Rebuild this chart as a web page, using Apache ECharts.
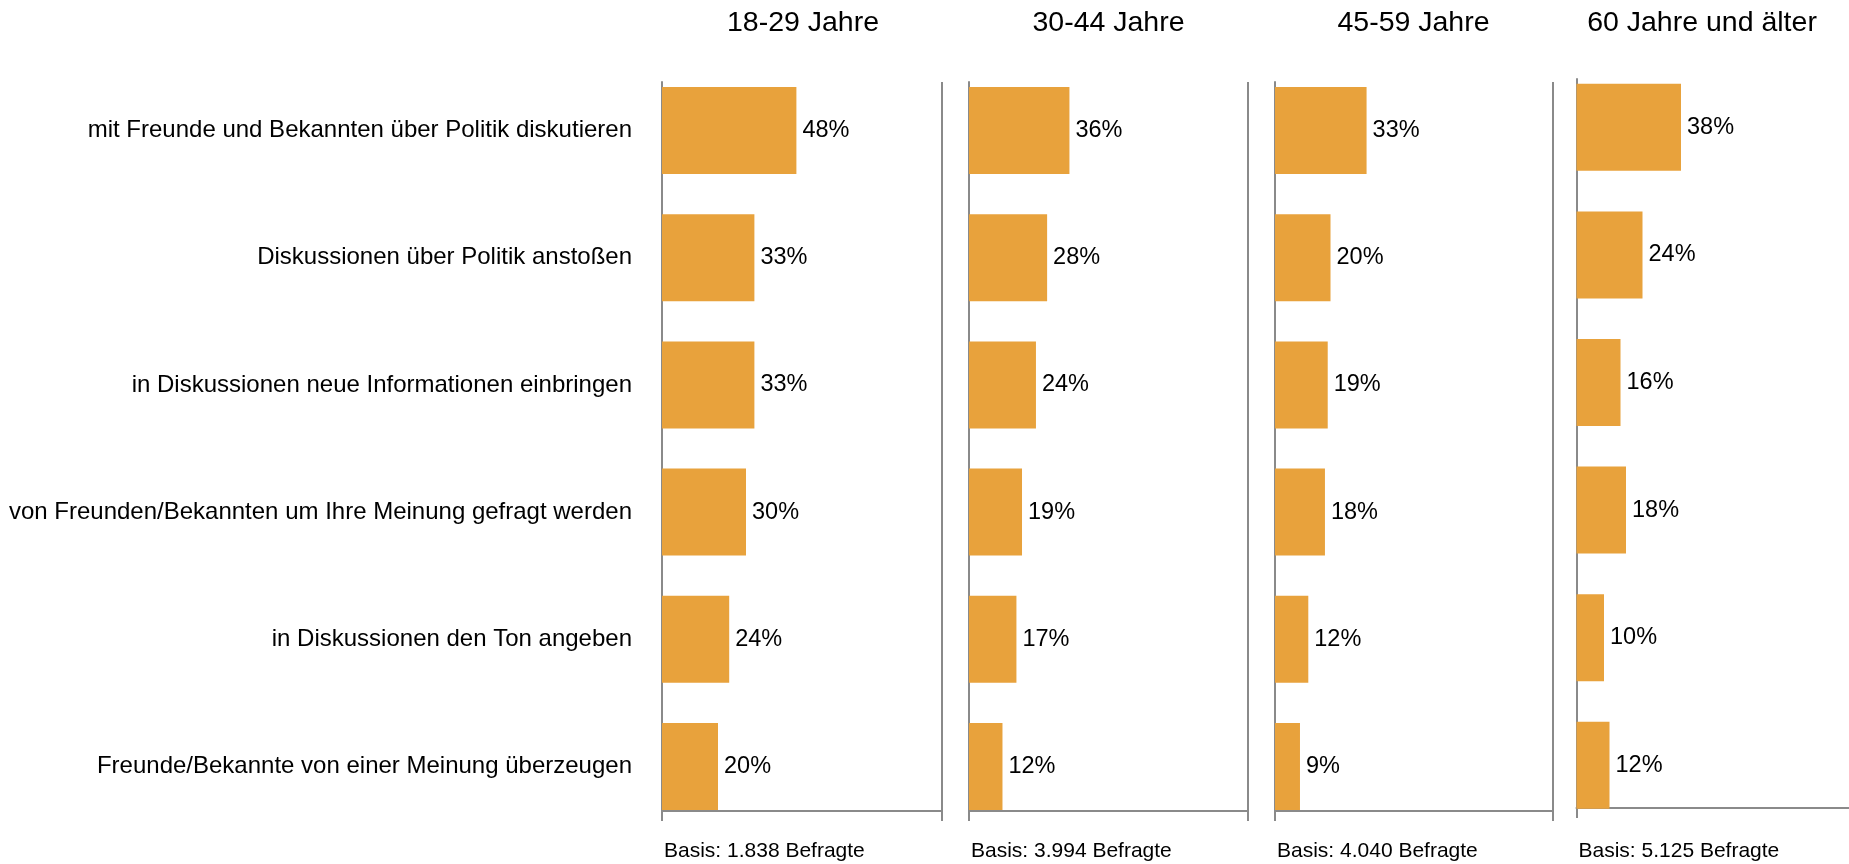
<!DOCTYPE html>
<html lang="de">
<head>
<meta charset="utf-8">
<title>Politische Meinungsführerschaft nach Alter</title>
<script src="https://cdn.jsdelivr.net/npm/echarts@6/dist/echarts.min.js"></script>
<style>
  html, body { margin: 0; padding: 0; background: #fff; }
  #chart { width: 1849px; height: 864px; }
</style>
</head>
<body>
<div id="chart"></div>
<script>
// Aussagen (Kategorien), von oben nach unten
const categories = [
  'mit Freunde und Bekannten über Politik diskutieren',
  'Diskussionen über Politik anstoßen',
  'in Diskussionen neue Informationen einbringen',
  'von Freunden/Bekannten um Ihre Meinung gefragt werden',
  'in Diskussionen den Ton angeben',
  'Freunde/Bekannte von einer Meinung überzeugen'
];

// Altersgruppen und Fallzahlen
const ageGroups = ['18-29 Jahre', '30-44 Jahre', '45-59 Jahre', '60 Jahre und älter'];
const baseLabels = ['Basis: 1.838 Befragte', 'Basis: 3.994 Befragte', 'Basis: 4.040 Befragte', 'Basis: 5.125 Befragte'];

// Zustimmung in Prozent je Altersgruppe
const values18to29 = [48, 33, 33, 30, 24, 20];
const values30to44 = [36, 28, 24, 19, 17, 12];
const values45to59 = [33, 20, 19, 18, 12, 9];
const values60plus = [38, 24, 16, 18, 10, 12];
const seriesValues = [values18to29, values30to44, values45to59, values60plus];

// Geometrie der vier Felder (Pixel)
const panels = [
  { left: 662,    width: 280,   barTop: 67,   barHeight: 763,   axisTop: 82, axisBottom: 811, titleX: 803 },
  { left: 969,    width: 279,   barTop: 67,   barHeight: 763,   axisTop: 82, axisBottom: 811, titleX: 1108.5 },
  { left: 1275,   width: 277.5, barTop: 67,   barHeight: 763,   axisTop: 82, axisBottom: 811, titleX: 1413.5 },
  { left: 1576.5, width: 275,   barTop: 63.5, barHeight: 765.6, axisTop: 79, axisBottom: 808, titleX: 1702 }
];

const FONT = '"Liberation Sans", Arial, Helvetica, sans-serif';
const LINE = '#8a8a8a';
const BAR = '#E8A23C';
const H = 864;

const grid = [], xAxis = [], yAxis = [], series = [], graphic = [];

panels.forEach((p, i) => {
  // Raster für die Balken
  grid.push({ left: p.left, width: p.width, top: p.barTop, height: p.barHeight, outerBoundsMode: 'none', containLabel: false });
  // Raster für die sichtbaren Achslinien
  grid.push({ left: p.left, width: p.width, top: p.axisTop, height: p.axisBottom - p.axisTop, outerBoundsMode: 'none', containLabel: false });

  const gBar = i * 2, gAxis = i * 2 + 1;

  xAxis.push({
    gridIndex: gBar, type: 'value', min: 0, max: 100, show: false
  });
  xAxis.push({
    gridIndex: gAxis, type: 'value', min: 0, max: 100, interval: 100,
    axisLine: { show: true, lineStyle: { color: LINE, width: 2 } },
    axisTick: { show: true, length: 10, lineStyle: { color: LINE, width: 2 } },
    axisLabel: { show: false },
    splitLine: { show: true, lineStyle: { color: LINE, width: 2, type: 'solid' } }
  });

  yAxis.push({
    gridIndex: gBar, type: 'category', inverse: true, data: categories,
    axisLine: { show: false }, axisTick: { show: false },
    splitLine: { show: false },
    axisLabel: {
      show: i === 0, margin: 30, color: '#000',
      fontFamily: FONT, fontSize: 24
    }
  });
  yAxis.push({
    gridIndex: gAxis, type: 'category', inverse: true, data: categories,
    axisLine: { show: true, lineStyle: { color: LINE, width: 2 } },
    axisTick: { show: false }, axisLabel: { show: false }, splitLine: { show: false }
  });

  series.push({
    name: ageGroups[i], type: 'bar',
    xAxisIndex: gBar, yAxisIndex: gBar,
    data: seriesValues[i],
    barWidth: 87,
    itemStyle: { color: BAR },
    label: {
      show: true, position: 'right', distance: 6,
      formatter: '{c}%', color: '#000', fontFamily: FONT, fontSize: 23.5
    },
    emphasis: { disabled: true },
    silent: true
  });

  // Überschrift der Altersgruppe
  graphic.push({
    type: 'text', x: p.titleX, y: 23,
    style: { text: ageGroups[i], fill: '#000', font: '28.5px ' + FONT, textAlign: 'center', textVerticalAlign: 'middle' }
  });
  // Fallzahl unter dem Feld
  graphic.push({
    type: 'text', x: p.left + 2, y: 851,
    style: { text: baseLabels[i], fill: '#000', font: '21px ' + FONT, textAlign: 'left', textVerticalAlign: 'middle' }
  });
});

const chart = echarts.init(document.getElementById('chart'), null, { renderer: 'canvas' });
chart.setOption({
  backgroundColor: '#fff',
  animation: false,
  textStyle: { fontFamily: FONT },
  grid, xAxis, yAxis, series, graphic
});
</script>
</body>
</html>
